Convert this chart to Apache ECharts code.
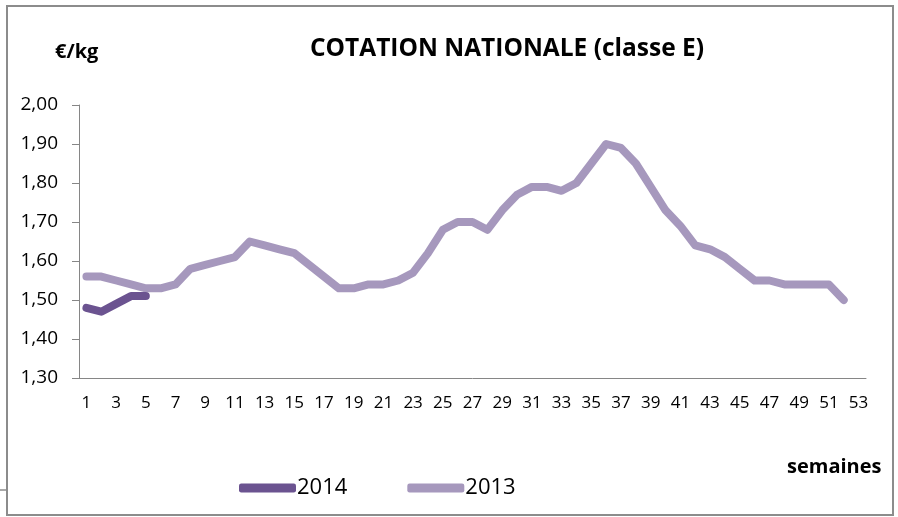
<!DOCTYPE html>
<html>
<head>
<meta charset="utf-8">
<title>COTATION NATIONALE (classe E)</title>
<script src="https://cdn.jsdelivr.net/npm/echarts@6/dist/echarts.min.js"></script>
<style>
  html, body { margin: 0; padding: 0; background: #fff; }
  #chart { width: 898px; height: 517px; }
</style>
</head>
<body>
<div id="chart"></div>
<script>
  // semaines 1..53
  var weeks = [];
  for (var w = 1; w <= 53; w++) { weeks.push(String(w)); }

  var yearNames = ['2014', '2013'];

  var values2014 = [1.48, 1.47, 1.49, 1.51, 1.51];

  var values2013 = [
    1.56, 1.56, 1.55, 1.54, 1.53, 1.53, 1.54, 1.58, 1.59, 1.60,
    1.61, 1.65, 1.64, 1.63, 1.62, 1.59, 1.56, 1.53, 1.53, 1.54,
    1.54, 1.55, 1.57, 1.62, 1.68, 1.70, 1.70, 1.68, 1.73, 1.77,
    1.79, 1.79, 1.78, 1.80, 1.85, 1.90, 1.89, 1.85, 1.79, 1.73,
    1.69, 1.64, 1.63, 1.61, 1.58, 1.55, 1.55, 1.54, 1.54, 1.54,
    1.54, 1.50
  ];

  var font = 'Open Sans';

  var option = {
    backgroundColor: '#fff',
    animation: false,
    title: {
      text: 'COTATION NATIONALE (classe E)',
      left: 507,
      top: 37,
      padding: 0,
      textAlign: 'center',
      textStyle: { fontFamily: font, fontWeight: 'bold', fontSize: 24.5, color: '#000' }
    },
    legend: {
      data: yearNames,
      left: 239,
      top: 477,
      padding: 0,
      itemWidth: 57,
      itemHeight: 9,
      itemGap: 60,
      textStyle: { fontFamily: font, fontSize: 22, color: '#000', padding: [0, 0, 0, -4] },
      icon: 'roundRect'
    },
    grid: { left: 79, right: 32, top: 105, bottom: 139 },
    xAxis: {
      type: 'category',
      data: weeks,
      boundaryGap: true,
      axisLine: { lineStyle: { color: '#868686', width: 1 } },
      axisTick: { interval: 0, length: 6, lineStyle: { color: '#868686' } },
      axisLabel: { interval: 1, margin: 17, fontFamily: font, fontSize: 17, color: '#000' }
    },
    yAxis: {
      type: 'value',
      min: 1.3,
      max: 2.0,
      interval: 0.1,
      splitLine: { show: false },
      axisLine: { show: true, lineStyle: { color: '#868686', width: 1 } },
      axisTick: { show: true, length: 7, lineStyle: { color: '#868686' } },
      axisLabel: {
        margin: 21,
        fontFamily: font,
        fontSize: 19,
        color: '#000',
        formatter: function (v) { return v.toFixed(2).replace('.', ','); }
      }
    },
    series: [
      {
        name: yearNames[0],
        type: 'line',
        data: values2014,
        symbol: 'none',
        z: 3,
        itemStyle: { color: '#6b5390' },
        lineStyle: { color: '#6b5390', width: 8, cap: 'round', join: 'round' }
      },
      {
        name: yearNames[1],
        type: 'line',
        data: values2013,
        symbol: 'none',
        z: 2,
        itemStyle: { color: '#a698bd' },
        lineStyle: { color: '#a698bd', width: 8, cap: 'round', join: 'round' }
      }
    ],
    graphic: [
      {
        type: 'rect',
        shape: { x: 7, y: 6, width: 886, height: 509 },
        style: { fill: null, stroke: '#8c8c8c', lineWidth: 2 },
        silent: true
      },
      {
        type: 'line',
        shape: { x1: 0, y1: 490, x2: 7, y2: 490 },
        style: { stroke: '#8c8c8c', lineWidth: 1.5 },
        silent: true
      },
      {
        type: 'text',
        left: 55,
        top: 42,
        style: { text: '€/kg', font: 'bold 20px "Open Sans"', fill: '#000' }
      },
      {
        type: 'text',
        left: 787,
        top: 457,
        style: { text: 'semaines', font: 'bold 20px "Open Sans"', fill: '#000' }
      }
    ]
  };

  var myChart = echarts.init(document.getElementById('chart'));
  myChart.setOption(option);
</script>
</body>
</html>
